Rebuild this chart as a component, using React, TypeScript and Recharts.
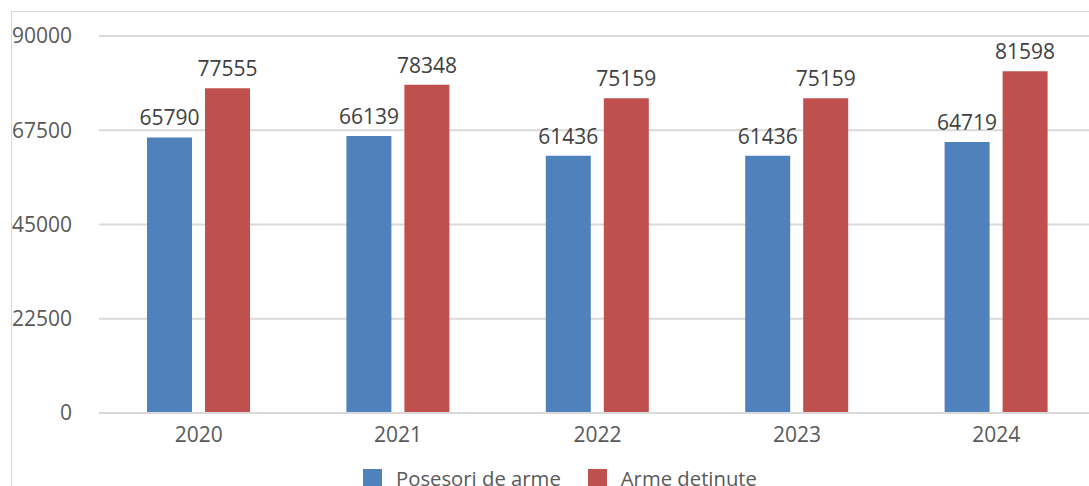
import { Bar, BarChart, CartesianGrid, LabelList, XAxis, YAxis } from "recharts"

const years = ["2020", "2021", "2022", "2023", "2024"]
const posesori = [65790, 66139, 61436, 61436, 64719]
const arme = [77555, 78348, 75159, 75159, 81598]
const yTicks = [0, 22500, 45000, 67500, 90000]

const series = [
  { key: "posesori", name: "Posesori de arme", color: "#4F81BD" },
  { key: "arme", name: "Arme detinute", color: "#C0504D" },
]

const data = years.map((year, i) => ({
  year,
  posesori: posesori[i],
  arme: arme[i],
}))

const font = "'Open Sans', sans-serif"

export default function App() {
  return (
    <div
      style={{
        position: "fixed",
        left: 0,
        top: 0,
        width: 1089,
        height: 486,
        overflow: "hidden",
        background: "#fff",
        fontFamily: font,
      }}
    >
      {/* chart frame */}
      <div
        style={{
          position: "absolute",
          left: 11,
          top: 11,
          width: 1200,
          height: 600,
          borderLeft: "1px solid #d9d9d9",
          borderTop: "1px solid #d9d9d9",
        }}
      />
      <div style={{ position: "absolute", left: 0, top: 0 }}>
        <BarChart
          width={1100}
          height={486}
          data={data}
          margin={{ top: 36, right: 4, left: 0, bottom: 33 }}
          barGap={13}
          barSize={45}
        >
          <CartesianGrid vertical={false} stroke="#d9d9d9" strokeWidth={2} />
          <XAxis
            dataKey="year"
            height={40}
            axisLine={{ stroke: "#d9d9d9", strokeWidth: 2 }}
            tickLine={false}
            tickSize={0}
            tickMargin={14}
            tick={{ fill: "#595959", fontSize: 21, fontFamily: font }}
          />
          <YAxis
            width={99}
            domain={[0, 90000]}
            ticks={yTicks}
            axisLine={false}
            tickLine={false}
            tickSize={0}
            tickMargin={27}
            tick={{ fill: "#595959", fontSize: 21, fontFamily: font }}
          />
          {series.map((s) => (
            <Bar key={s.key} dataKey={s.key} name={s.name} fill={s.color} isAnimationActive={false}>
              <LabelList
                dataKey={s.key}
                position="top"
                offset={12}
                fill="#404040"
                fontSize={21}
                fontFamily={font}
              />
            </Bar>
          ))}
        </BarChart>
      </div>
      {/* legend, cut by the bottom edge as in the original */}
      <div
        style={{
          position: "absolute",
          left: 363,
          top: 464,
          display: "flex",
          alignItems: "center",
          fontSize: 20.3,
          color: "#595959",
          whiteSpace: "nowrap",
        }}
      >
        {series.map((s, i) => (
          <div
            key={s.key}
            style={{ display: "flex", alignItems: "center", marginLeft: i === 0 ? 0 : 27 }}
          >
            <span
              style={{ display: "inline-block", width: 19, height: 19, background: s.color, marginRight: 14 }}
            />
            <span>{s.name}</span>
          </div>
        ))}
      </div>
    </div>
  )
}
